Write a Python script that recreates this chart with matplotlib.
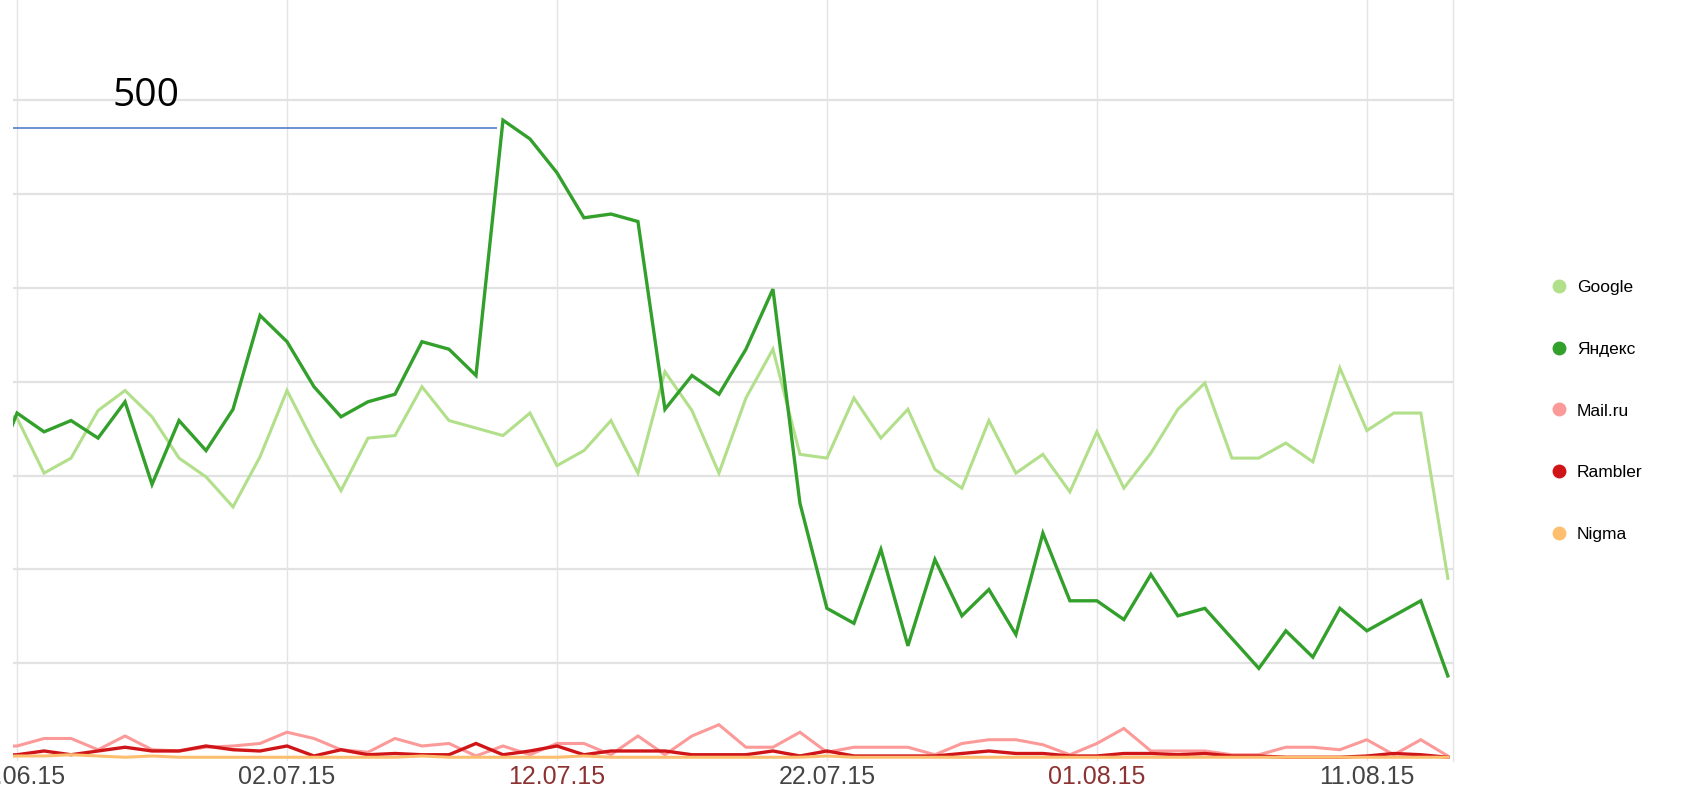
import matplotlib
matplotlib.use("Agg")
import matplotlib.pyplot as plt
from matplotlib import font_manager
from matplotlib.lines import Line2D
import pandas as pd

# ---------------- data ----------------
dates = pd.date_range("2015-06-21", "2015-08-14", freq="D")

google = [278, 271, 227, 239, 277, 293, 272, 239, 224, 200, 240, 293, 251, 213, 255, 257,
          296, 269, 263, 257, 275, 233, 245, 269, 227, 308, 277, 227, 287, 326, 242, 239,
          287, 255, 278, 230, 215, 269, 227, 242, 212, 260, 215, 243, 278, 299, 239, 239,
          251, 236, 311, 261, 275, 275, 143]
yandex = [220, 275, 260, 269, 255, 284, 218, 269, 245, 278, 353, 332, 296, 272, 284, 290,
          332, 326, 305, 509, 494, 467, 431, 434, 428, 278, 305, 290, 326, 374, 203, 119,
          107, 166, 89, 158, 113, 134, 98, 179, 125, 125, 110, 146, 113, 119, 95, 71,
          101, 80, 119, 101, 113, 125, 65]
mailru = [8, 9, 15, 15, 6, 17, 6, 5, 8, 9, 11, 20, 15, 6, 4, 15, 9, 11, 1, 9, 2, 11, 11,
          2, 17, 2, 17, 26, 8, 8, 20, 4, 8, 8, 8, 2, 11, 14, 14, 10, 2, 11, 23, 5, 5, 5,
          2, 2, 8, 8, 6, 14, 2, 14, 1]
rambler = [1, 2, 5, 2, 5, 8, 5, 5, 9, 6, 5, 9, 1, 6, 2, 3, 2, 2, 11, 2, 5, 9, 2, 5, 5,
           5, 2, 2, 2, 5, 1, 5, 1, 1, 1, 1, 3, 5, 3, 3, 1, 1, 3, 3, 2, 3, 1, 1, 0, 0, 0,
           1, 3, 2, 0]
nigma = [0, 1, 1, 2, 1, 0, 1, 0, 0, 0, 0, 0, 0, 0, 0, 0, 1, 0, 0, 0, 0, 0, 1, 0, 0,
         0, 0, 0, 0, 0, 0, 1, 0, 0, 0, 0, 0, 0, 0, 0, 0, 0, 0, 0, 0, 0, 0, 0, 0, 0, 0,
         0, 0, 0, 0]

series_names = ["Google", "Яндекс", "Mail.ru", "Rambler", "Nigma"]
series_values = [google, yandex, mailru, rambler, nigma]
series_colors = ["#b2df8a", "#33a02c", "#fb9a99", "#d01519", "#fdbf6f"]
series_widths = [2.2, 2.4, 2.2, 2.4, 2.2]

tick_dates = ["2015-06-22", "2015-07-02", "2015-07-12", "2015-07-22", "2015-08-01", "2015-08-11"]
tick_labels = ["22.06.15", "02.07.15", "12.07.15", "22.07.15", "01.08.15", "11.08.15"]
tick_colors = ["#444444", "#444444", "#8c3232", "#444444", "#8c3232", "#444444"]

grid_values = [75, 150, 225, 300, 375, 450, 525]

marker_value = 503
marker_label = "500"
marker_end = "2015-07-09 19:00"

# ---------------- fonts ----------------
names = {f.name for f in font_manager.fontManager.ttflist}
narrow = "Liberation Sans Narrow" if "Liberation Sans Narrow" in names else "Liberation Sans"
is_narrow = narrow == "Liberation Sans Narrow"
tick_size = 21 if is_narrow else 18
legend_size = 14 if is_narrow else 12.5

# ---------------- figure ----------------
W, H = 1684, 806
fig = plt.figure(figsize=(W / 100, H / 100), dpi=100)
ax_left, ax_right = 13 / W, 1453 / W
ax_bottom = (H - 761) / H
ax = fig.add_axes([ax_left, ax_bottom, ax_right - ax_left, 1 - ax_bottom])

for vals, col, lw in zip(series_values, series_colors, series_widths):
    ax.plot(dates, vals, color=col, lw=lw, solid_joinstyle="miter", zorder=3)

x0 = pd.Timestamp("2015-06-22") - pd.Timedelta(hours=3.6)
x1 = pd.Timestamp("2015-08-14") + pd.Timedelta(hours=4.6)
ax.set_xlim(x0, x1)
ax.set_ylim(-3, 605)

# grid
for g in grid_values:
    ax.axhline(g, color="#e2e2e2", lw=1.6, zorder=1)
for d in tick_dates:
    ax.axvline(pd.Timestamp(d), color="#e4e4e4", lw=1.0, zorder=1)

for s in ["top", "left", "bottom"]:
    ax.spines[s].set_visible(False)
ax.spines["right"].set_color("#e4e4e4")
ax.spines["right"].set_linewidth(1.0)

ax.set_yticks([])
ax.set_xticks([pd.Timestamp(d) for d in tick_dates])
ax.set_xticklabels(tick_labels, fontfamily=narrow, fontsize=tick_size)
for lab, c in zip(ax.get_xticklabels(), tick_colors):
    lab.set_color(c)
ax.tick_params(axis="x", length=0, pad=3)

# annotation line "500"
ax.hlines(marker_value, x0, pd.Timestamp(marker_end), color="#4472c4", lw=1.1, zorder=4)
ax.text(pd.Timestamp("2015-06-26 19:00"), 520, marker_label, fontfamily="Open Sans",
        fontsize=28, color="black", ha="center", va="baseline")

# legend
handles = [Line2D([], [], marker="o", linestyle="None", color=c, markersize=9)
           for c in series_colors]
fig.legend(handles, series_names, loc="upper left",
           bbox_to_anchor=(1550 / W, 1 - 280 / H), frameon=False,
           prop={"family": narrow, "size": legend_size},
           handlelength=1.0, handletextpad=0.55, labelspacing=2.68,
           borderpad=0, borderaxespad=0)

fig.savefig("out.png", dpi=100, facecolor="white")
